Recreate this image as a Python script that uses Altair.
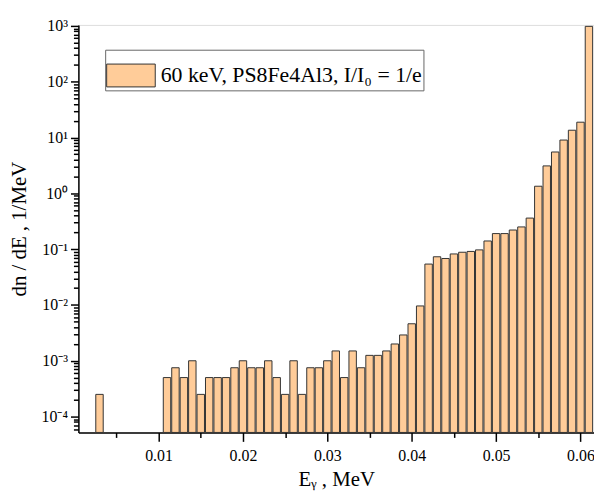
import altair as alt
import pandas as pd

# Bin centres (MeV) and dn/dE values (1/MeV)
energy = [0.003,
          0.011, 0.012, 0.013, 0.014, 0.015, 0.016, 0.017, 0.018, 0.019, 0.020,
          0.021, 0.022, 0.023, 0.024, 0.025, 0.026, 0.027, 0.028, 0.029, 0.030,
          0.031, 0.032, 0.033, 0.034, 0.035, 0.036, 0.037, 0.038, 0.039, 0.040,
          0.041, 0.042, 0.043, 0.044, 0.045, 0.046, 0.047, 0.048, 0.049, 0.050,
          0.051, 0.052, 0.053, 0.054, 0.055, 0.056, 0.057, 0.058, 0.059, 0.060,
          0.061]
dnde = [2.5e-4,
        5e-4, 7.5e-4, 5e-4, 1e-3, 2.5e-4, 5e-4, 5e-4, 5e-4, 7.5e-4, 1e-3,
        7.5e-4, 7.5e-4, 1e-3, 5e-4, 2.5e-4, 1e-3, 2.5e-4, 7.5e-4, 7.5e-4, 1e-3,
        1.5e-3, 5e-4, 1.5e-3, 7.5e-4, 1.25e-3, 1.25e-3, 1.5e-3, 2e-3, 2.9e-3, 4.6e-3,
        9.6e-3, 0.054, 0.073, 0.068, 0.082, 0.088, 0.091, 0.097, 0.14, 0.19,
        0.19, 0.22, 0.25, 0.36, 1.34, 3.1, 5.5, 9.0, 13.5, 18.8,
        980.0]
series_name = "60 keV, PS8Fe4Al3, I/I\u2080 = 1/e"

y_ticks = [6e-5, 7e-5, 8e-5, 9e-5,
           1e-4, 2e-4, 3e-4, 4e-4, 5e-4, 6e-4, 7e-4, 8e-4, 9e-4,
           1e-3, 2e-3, 3e-3, 4e-3, 5e-3, 6e-3, 7e-3, 8e-3, 9e-3,
           1e-2, 2e-2, 3e-2, 4e-2, 5e-2, 6e-2, 7e-2, 8e-2, 9e-2,
           1e-1, 2e-1, 3e-1, 4e-1, 5e-1, 6e-1, 7e-1, 8e-1, 9e-1,
           1, 2, 3, 4, 5, 6, 7, 8, 9,
           10, 20, 30, 40, 50, 60, 70, 80, 90,
           100, 200, 300, 400, 500, 600, 700, 800, 900, 1000]
y_labels = ["10\u207b\u2074", "10\u207b\u00b3", "10\u207b\u00b2", "10\u207b\u00b9",
            "10\u2070", "10\u00b9", "10\u00b2", "10\u00b3"]
x_ticks = [0.005, 0.01, 0.015, 0.02, 0.025, 0.03, 0.035, 0.04, 0.045, 0.05, 0.055, 0.06]

df = pd.DataFrame({"e": energy, "v": dnde, "series": series_name})

FONT = "Liberation Serif"
y_major_test = "abs(log(datum.value)/LN10 - round(log(datum.value)/LN10)) < 0.01"
x_major_test = "abs(datum.value*100 - round(datum.value*100)) < 0.001"
y_label_arr = "[" + ",".join("'" + s + "'" for s in y_labels) + "]"

y_axis = alt.Axis(
    values=y_ticks,
    labelExpr=f"{y_major_test} ? {y_label_arr}[round(log(datum.value)/LN10)+4] : ''",
    tickSize={"condition": {"test": y_major_test, "value": 8}, "value": 5},
    title="dn / dE , 1/MeV",
    titleFont=FONT, titleFontSize=21, titleFontWeight="normal", titleColor="black",
    titlePadding=12,
    labelFont=FONT, labelFontSize=16, labelColor="black", labelPadding=3,
    domainColor="black", domainWidth=1.5, tickColor="black", tickWidth=1.5,
    grid=False, labelOverlap=False, labelFlush=False,
)
x_axis = alt.Axis(
    values=x_ticks,
    labelExpr=f"{x_major_test} ? format(datum.value, '.2f') : ''",
    tickSize={"condition": {"test": x_major_test, "value": 9}, "value": 5},
    title="E\u1d67 , MeV",
    titleFont=FONT, titleFontSize=21, titleFontWeight="normal", titleColor="black",
    titlePadding=6,
    labelFont=FONT, labelFontSize=16, labelColor="black", labelPadding=6,
    domainColor="black", domainWidth=1.5, tickColor="black", tickWidth=1.5,
    grid=False, labelOverlap=False, labelFlush=False,
)

legend = alt.Legend(
    title=None, orient="none", legendX=27, legendY=25,
    symbolType="M-1,-0.47H1V0.47H-1Z", symbolSize=2401,
    symbolStrokeColor="#333", symbolStrokeWidth=1, symbolOpacity=1,
    labelFont=FONT, labelFontSize=22, labelColor="black", labelLimit=1000,
    labelOffset=5, padding=1, strokeColor="#666", fillColor="white",
)

chart = alt.Chart(df).transform_calculate(
    x0="datum.e - 0.00044", x1="datum.e + 0.00044"
).mark_bar(stroke="#333", strokeWidth=1, opacity=1).encode(
    x=alt.X("x0:Q", scale=alt.Scale(domain=[0.0005, 0.0616], nice=False, zero=False), axis=x_axis),
    x2="x1:Q",
    y=alt.Y("v:Q", scale=alt.Scale(type="log", domain=[5.2e-5, 1040], nice=False), axis=y_axis),
    y2=alt.datum(5.2e-5),
    color=alt.Color("series:N", scale=alt.Scale(range=["#FFCC99"]), legend=legend),
).properties(
    width=520, height=411,
    autosize="none",
    padding={"left": 71, "top": 15, "right": 0, "bottom": 58},
).configure_view(stroke=None).configure(background="white")

chart.save("out.html", embed_options={"renderer": "svg", "actions": False})
